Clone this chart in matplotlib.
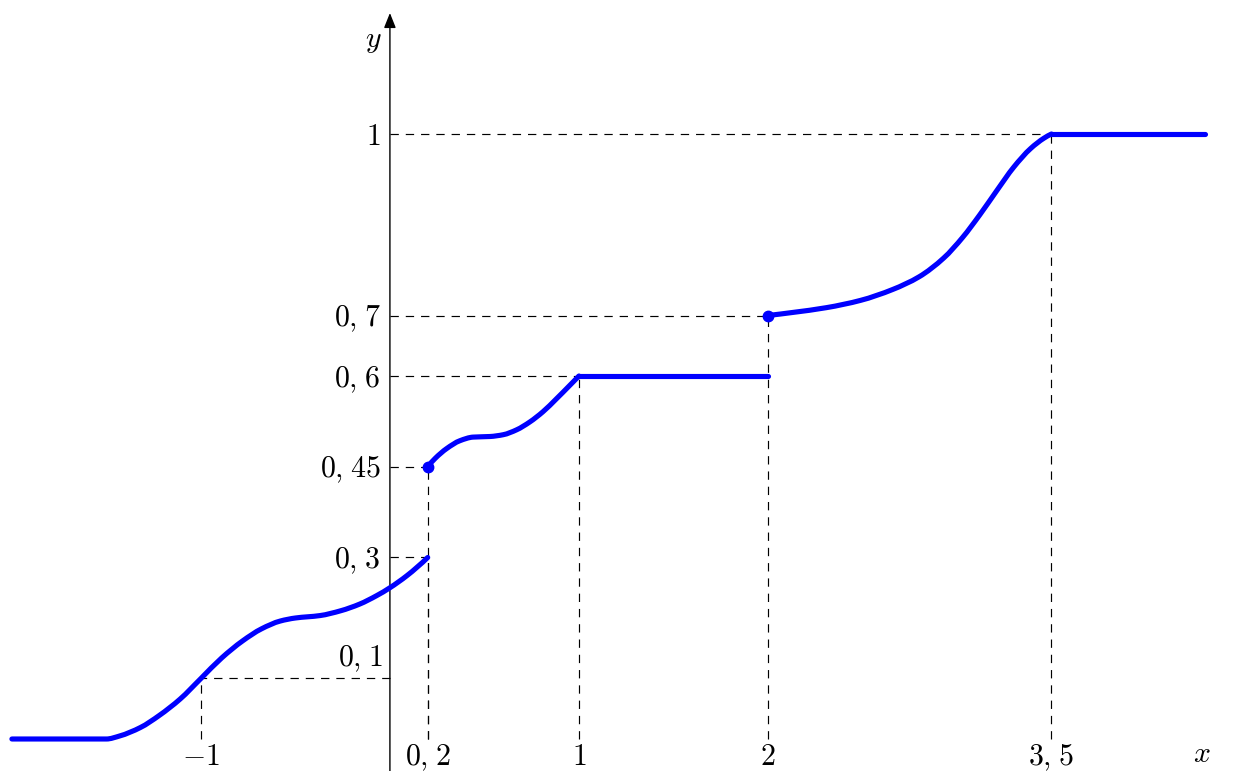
import matplotlib
matplotlib.use('Agg')
import matplotlib.pyplot as plt
from matplotlib.patches import ArrowStyle, PathPatch
from matplotlib.path import Path

plt.rcParams['mathtext.fontset'] = 'cm'
plt.rcParams['lines.scale_dashes'] = False

# ---------------- data ----------------
# piece A: x in [-2, 0.2]
a_x = [-2.0, -1.5, -1.43, -1.32, -1.22, -1.11, -1.0, -0.89, -0.78, -0.68,
       -0.58, -0.5, -0.37, -0.26, -0.16, -0.07, 0.0, 0.09, 0.2]
a_y = [0.0, 0.0, 0.005, 0.019, 0.039, 0.066, 0.1, 0.134, 0.162, 0.182,
       0.195, 0.2, 0.204, 0.212, 0.223, 0.237, 0.25, 0.27, 0.3]
# piece B: x in [0.2, 1] and flat part [1, 2]
b_x = [0.2, 0.24, 0.3, 0.37, 0.44, 0.53, 0.6, 0.67, 0.74, 0.81, 0.88, 0.95,
       1.0]
b_y = [0.45, 0.464, 0.48, 0.493, 0.499, 0.5, 0.503, 0.511, 0.524, 0.541,
       0.562, 0.584, 0.6]
b_flat_x = [1.0, 2.0]
b_flat_y = [0.6, 0.6]
# piece C: x in [2, 3.5] and flat part [3.5, 4.31]
c_x = [2.0, 2.13, 2.31, 2.49, 2.66, 2.8, 2.93, 3.03, 3.12, 3.21, 3.3, 3.39,
       3.46, 3.5]
c_y = [0.7, 0.705, 0.713, 0.725, 0.743, 0.764, 0.795, 0.829, 0.866, 0.906,
       0.945, 0.976, 0.993, 1.0]
c_flat_x = [3.5, 4.31]
c_flat_y = [1.0, 1.0]
# closed dots
dot_x = [0.2, 2.0]
dot_y = [0.45, 0.7]
# dashed guide lines (to the point (gx, gy))
guide_x = [-1.0, 0.2, 0.2, 1.0, 2.0, 3.5]
guide_y = [0.1, 0.3, 0.45, 0.6, 0.7, 1.0]
# tick labels
SP = r'\hspace{0.09}'
xticks = [-1.0, 0.2, 1.0, 2.0, 3.5]
xtick_labels = [r'$-1$', r'$0,' + SP + r'2$', r'$1$', r'$2$',
                r'$3,' + SP + r'5$']
yticks = [0.3, 0.45, 0.6, 0.7, 1.0]
ytick_labels = [r'$0,' + SP + r'3$', r'$0,' + SP + r'45$',
                r'$0,' + SP + r'6$', r'$0,' + SP + r'7$', r'$1$']
ytick_above = [0.1]
ytick_above_labels = [r'$0,' + SP + r'1$']


def smooth_path(xs, ys):
    """Smooth (monotone cubic) Bezier path through the given points,
    like TikZ's 'plot[smooth]'."""
    n = len(xs)
    h = [xs[i + 1] - xs[i] for i in range(n - 1)]
    s = [(ys[i + 1] - ys[i]) / h[i] for i in range(n - 1)]
    m = [0.0] * n
    if n == 2:
        m = [s[0], s[0]]
    else:
        for i in range(1, n - 1):
            if s[i - 1] * s[i] <= 0:
                m[i] = 0.0
            else:
                w1 = 2 * h[i] + h[i - 1]
                w2 = h[i] + 2 * h[i - 1]
                m[i] = (w1 + w2) / (w1 / s[i - 1] + w2 / s[i])

        def end(h0, h1, s0, s1):
            d = ((2 * h0 + h1) * s0 - h0 * s1) / (h0 + h1)
            if d * s0 <= 0:
                return 0.0
            if s0 * s1 <= 0 and abs(d) > abs(3 * s0):
                return 3 * s0
            return d
        m[0] = end(h[0], h[1], s[0], s[1])
        m[-1] = end(h[-1], h[-2], s[-1], s[-2])
    verts = [(xs[0], ys[0])]
    codes = [Path.MOVETO]
    for i in range(n - 1):
        d = h[i] / 3.0
        verts += [(xs[i] + d, ys[i] + m[i] * d),
                  (xs[i + 1] - d, ys[i + 1] - m[i + 1] * d),
                  (xs[i + 1], ys[i + 1])]
        codes += [Path.CURVE4] * 3
    return Path(verts, codes)


# ---------------- figure ----------------
fig = plt.figure(figsize=(12.34, 7.71), dpi=100)
ax = fig.add_axes([0, 0, 1, 1])
ax.set_xlim(-2.063, 4.466)
ax.set_ylim(-0.0529, 1.2215)
ax.axis('off')

FS = 21.5
dash = (0, (6.0, 5.0))
for gx, gy in zip(guide_x, guide_y):
    ax.plot([0, gx], [gy, gy], color='black', lw=0.85, linestyle=dash, zorder=1)
    ax.plot([gx, gx], [0, gy], color='black', lw=0.85, linestyle=dash, zorder=1)

# axes with arrows
astyle = ArrowStyle('-|>', head_length=0.45, head_width=0.18)
ax.annotate('', xy=(4.508, 0), xytext=(-2.0, 0),
            arrowprops=dict(arrowstyle=astyle, mutation_scale=20, lw=1.0,
                            color='black', shrinkA=0, shrinkB=0), zorder=2)
ax.annotate('', xy=(0, 1.2), xytext=(0, -0.0529),
            arrowprops=dict(arrowstyle=astyle, mutation_scale=20, lw=1.0,
                            color='black', shrinkA=0, shrinkB=0), zorder=2)

# curve
BLUE = '#0000ff'
LW = 3.7
for px, py in ((a_x, a_y), (b_x, b_y), (c_x, c_y)):
    ax.add_patch(PathPatch(smooth_path(px, py), fill=False, edgecolor=BLUE,
                           lw=LW, capstyle='round', joinstyle='round',
                           zorder=3))
for px, py in ((b_flat_x, b_flat_y), (c_flat_x, c_flat_y)):
    ax.plot(px, py, color=BLUE, lw=LW, solid_capstyle='round', zorder=3)
ax.plot(dot_x, dot_y, 'o', color=BLUE, ms=7.5, zorder=4)

# labels
for x, lab in zip(xticks, xtick_labels):
    ax.annotate(lab, (x, 0), xytext=(0, -19.0), textcoords='offset points',
                ha='center', va='baseline', fontsize=FS)
for y, lab in zip(yticks, ytick_labels):
    ax.annotate(lab, (0, y), xytext=(-6.5, -7.8), textcoords='offset points',
                ha='right', va='baseline', fontsize=FS)
for y, lab in zip(ytick_above, ytick_above_labels):
    ax.annotate(lab, (0, y), xytext=(-4.5, 8.6), textcoords='offset points',
                ha='right', va='baseline', fontsize=FS)
ax.annotate(r'$x$', (4.296, 0), xytext=(0, -16.5), textcoords='offset points',
            ha='center', va='baseline', fontsize=FS)
ax.annotate(r'$y$', (0, 1.144), xytext=(-6, 0), textcoords='offset points',
            ha='right', va='baseline', fontsize=FS)

fig.savefig('out.png', dpi=100)
